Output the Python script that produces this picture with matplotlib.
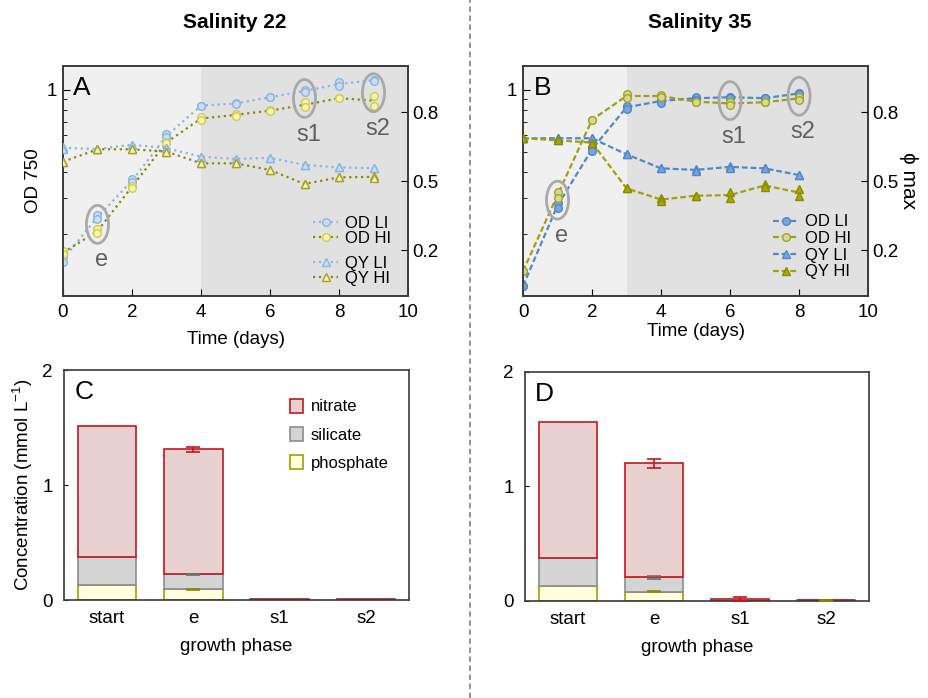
import numpy as np
import matplotlib.pyplot as plt
from matplotlib.patches import Ellipse, Patch
from matplotlib.lines import Line2D
from matplotlib.ticker import NullFormatter

plt.rcParams['font.family'] = ['Liberation Sans', 'DejaVu Sans']
plt.rcParams['mathtext.fontset'] = 'custom'
plt.rcParams['mathtext.rm'] = 'Liberation Sans'
plt.rcParams['axes.edgecolor'] = '#3a3a3a'
plt.rcParams['axes.linewidth'] = 1.2

# ---- salinity 22 (A), two replicates per day ----
days_a = [0, 1, 2, 3, 4, 5, 6, 7, 8, 9]
od_li_a_1 = [0.155, 0.246, 0.367, 0.608, 0.836, 0.861, 0.918, 1.000, 1.087, 1.115]
od_li_a_2 = [0.146, 0.237, 0.356, 0.586, 0.836, 0.851, 0.918, 0.971, 1.039, 1.106]
od_hi_a_1 = [0.165, 0.212, 0.343, 0.558, 0.733, 0.761, 0.796, 0.868, 0.908, 0.935]
od_hi_a_2 = [0.159, 0.201, 0.334, 0.551, 0.714, 0.747, 0.785, 0.820, 0.908, 0.836]
qy_li_a_1 = [0.649, 0.639, 0.658, 0.643, 0.606, 0.596, 0.601, 0.570, 0.559, 0.556]
qy_li_a_2 = [0.640, 0.639, 0.658, 0.643, 0.606, 0.596, 0.601, 0.570, 0.559, 0.556]
qy_hi_a_1 = [0.584, 0.638, 0.638, 0.628, 0.577, 0.577, 0.548, 0.487, 0.516, 0.522]
qy_hi_a_2 = [0.584, 0.638, 0.638, 0.628, 0.577, 0.577, 0.548, 0.487, 0.516, 0.514]
phase_days_a = {'e': 1, 's1': 7, 's2': 9}
split_day_a = 4

# ---- salinity 35 (B) ----
days_b = [0, 1, 2, 3, 4, 5, 6, 7, 8]
od_li_b_1 = [0.112, 0.282, 0.524, 0.836, 0.901, 0.925, 0.925, 0.908, 0.964]
od_li_b_2 = [0.112, 0.267, 0.504, 0.805, 0.861, 0.891, 0.911, 0.908, 0.953]
od_hi_b_1 = [0.132, 0.318, 0.714, 0.953, 0.942, 0.874, 0.868, 0.868, 0.918]
od_hi_b_2 = [0.132, 0.299, 0.714, 0.911, 0.918, 0.874, 0.845, 0.868, 0.894]
qy_li_b_1 = [0.686, 0.686, 0.686, 0.616, 0.555, 0.552, 0.565, 0.555, 0.526]
qy_li_b_2 = [0.686, 0.686, 0.686, 0.616, 0.555, 0.545, 0.558, 0.555, 0.526]
qy_hi_b_1 = [0.686, 0.677, 0.667, 0.468, 0.425, 0.436, 0.451, 0.486, 0.465]
qy_hi_b_2 = [0.686, 0.677, 0.667, 0.468, 0.414, 0.436, 0.427, 0.475, 0.435]
phase_days_b = {'e': 1, 's1': 6, 's2': 8}
split_day_b = 3

# ---- nutrients (C, D) ----
phases = ['start', 'e', 's1', 's2']
phosphate_c = [0.128, 0.093, 0.003, 0.003]
silicate_c = [0.243, 0.130, 0.001, 0.001]
nitrate_c = [1.145, 1.087, 0.001, 0.001]
phosphate_err_c = [0, 0.003, 0, 0]
silicate_err_c = [0, 0.006, 0, 0]
nitrate_err_c = [0, 0.020, 0, 0]

phosphate_d = [0.133, 0.081, 0.002, 0.004]
silicate_d = [0.244, 0.125, 0.001, 0.001]
nitrate_d = [1.185, 0.996, 0.014, 0.001]
phosphate_err_d = [0, 0.005, 0, 0.002]
silicate_err_d = [0, 0.012, 0, 0]
nitrate_err_d = [0, 0.040, 0.017, 0]

style_a = dict(ls=':', li_line='#8db4e2', li_face='#c9ddf4', li_edge='#8db4e2',
               hi_line='#8a8a00', hi_face='#f6f4a6', hi_edge='#cfcb5a',
               tri_hi_face='#f6f4a6', tri_hi_edge='#a5a22a')
style_b = dict(ls=(0, (2.6, 1.3)), li_line='#4f89cb', li_face='#78a6dc', li_edge='#4f89cb',
               hi_line='#a0a010', hi_face='#dada8c', hi_edge='#a3a32a',
               tri_hi_face='#a8a800', tri_hi_edge='#8c8c00')


def line_panel(ax, days, od_li, od_hi, qy_li, qy_hi, st, split_day, phase_days, letter, split_legend):
    ax.axvspan(0, split_day, color='#f0f0f0', lw=0)
    ax.axvspan(split_day, 10, color='#e1e1e1', lw=0)
    ax.set_yscale('log')
    ax.set_xlim(0, 10)
    ax.set_ylim(0.1, 1.3)
    ax2 = ax.twinx()
    ax2.set_ylim(0, 1)

    series = [
        (ax, od_li, 'o', st['li_line'], st['li_face'], st['li_edge'], 'OD LI', True),
        (ax, od_hi, 'o', st['hi_line'], st['hi_face'], st['hi_edge'], 'OD HI', True),
        (ax2, qy_li, '^', st['li_line'], st['li_face'], st['li_edge'], 'QY LI', False),
        (ax2, qy_hi, '^', st['hi_line'], st['tri_hi_face'], st['tri_hi_edge'], 'QY HI', False),
    ]
    handles = []
    for a, reps, m, lc, fc, ec, lab, logy in series:
        r = np.array(reps)
        mean = np.sqrt(r[0] * r[1]) if logy else r.mean(axis=0)
        a.plot(days, mean, color=lc, ls=st['ls'], lw=1.6, zorder=2)
        for rr in r:
            a.plot(days, rr, ls='none', marker=m, ms=5.5, mfc=fc, mec=ec, mew=1.0, zorder=3)
        handles.append(Line2D([], [], color=lc, ls=st['ls'], lw=1.6, marker=m, ms=5.5,
                              mfc=fc, mec=ec, mew=1.0, label=lab))

    ax.set_yticks([1])
    ax.set_yticklabels(['1'])
    ax.set_yticks([0.2, 0.3, 0.4, 0.5, 0.6, 0.7, 0.8, 0.9], minor=True)
    ax.yaxis.set_minor_formatter(NullFormatter())
    ax.set_xticks([0, 2, 4, 6, 8, 10])
    ax2.set_yticks([0.2, 0.5, 0.8])
    ax.tick_params(which='major', direction='in', length=5, labelsize=13.5, pad=4)
    ax.tick_params(which='minor', direction='in', length=3)
    ax.tick_params(axis='x', pad=6)
    ax2.tick_params(direction='in', length=5, labelsize=13.5, pad=3)

    # growth phase marks
    od_all = np.array(od_li + od_hi)
    for name, d in phase_days.items():
        i = days.index(d)
        yc = np.sqrt(od_all[:, i].min() * od_all[:, i].max())
        cx, cy = ax.transAxes.inverted().transform(ax.transData.transform((d, yc)))
        ax2.add_patch(Ellipse((cx, cy), 0.064, 0.165, transform=ax2.transAxes, fill=False,
                              ec='#a9a9a9', lw=2, zorder=5))
        ax2.annotate(name, xy=(cx, cy), xycoords='axes fraction', xytext=(3, -26),
                     textcoords='offset points', ha='center', va='center',
                     fontsize=17, color='#606060')

    ax.text(0.03, 0.955, letter, transform=ax.transAxes, ha='left', va='top', fontsize=19)

    if split_legend:
        leg1 = ax2.legend(handles=handles[:2], loc='upper left', bbox_to_anchor=(0.725, 0.35),
                          frameon=False, fontsize=12, handlelength=1.5, handletextpad=0.4,
                          labelspacing=0.0, borderpad=0, borderaxespad=0)
        ax2.add_artist(leg1)
        ax2.legend(handles=handles[2:], loc='upper left', bbox_to_anchor=(0.725, 0.175),
                   frameon=False, fontsize=12, handlelength=1.5, handletextpad=0.4,
                   labelspacing=0.0, borderpad=0, borderaxespad=0)
    else:
        ax2.legend(handles=handles, loc='upper left', bbox_to_anchor=(0.725, 0.355),
                   frameon=False, fontsize=12, handlelength=1.5, handletextpad=0.4,
                   labelspacing=0.1, borderpad=0, borderaxespad=0)
    return ax2


def bar_panel(ax, phos, sil, nit, phos_err, sil_err, nit_err, letter):
    x = np.arange(len(phases))
    phos = np.array(phos)
    sil = np.array(sil)
    nit = np.array(nit)
    w = 0.68
    ax.bar(x, phos, w, color='#ffffe0', edgecolor='#a0a000', lw=1.2, label='phosphate')
    ax.bar(x, sil, w, bottom=phos, color='#d4d4d4', edgecolor='#8c8c8c', lw=1.2, label='silicate')
    ax.bar(x, nit, w, bottom=phos + sil, color='#e8d0d0', edgecolor='#c0181c', lw=1.2, label='nitrate')
    for top, err, c in [(phos, phos_err, '#8a8a00'), (phos + sil, sil_err, '#707070'),
                        (phos + sil + nit, nit_err, '#c0181c')]:
        err = np.array(err)
        k = err > 0
        ax.errorbar(x[k], top[k], yerr=err[k], fmt='none', ecolor=c, elinewidth=1.2,
                    capsize=5, capthick=1.2, zorder=4)
    ax.set_xlim(-0.5, 3.5)
    ax.set_ylim(0, 2)
    ax.set_xticks(x)
    ax.set_xticklabels(phases)
    ax.set_yticks([0, 1, 2])
    ax.tick_params(axis='x', length=0, labelsize=13.5, pad=7)
    ax.tick_params(axis='y', direction='in', length=3, labelsize=13.5, pad=8)
    ax.set_xlabel('growth phase', fontsize=13.5, labelpad=8)
    ax.text(0.03, 0.955, letter, transform=ax.transAxes, ha='left', va='top', fontsize=19)


fig = plt.figure(figsize=(9.29, 6.98), dpi=100)
axA = fig.add_axes([0.0678, 0.5759, 0.3714, 0.3295])
axB = fig.add_axes([0.5630, 0.5759, 0.3714, 0.3295])
axC = fig.add_axes([0.0689, 0.1404, 0.3714, 0.3295])
axD = fig.add_axes([0.5651, 0.1390, 0.3703, 0.3281])

line_panel(axA, days_a, [od_li_a_1, od_li_a_2], [od_hi_a_1, od_hi_a_2],
           [qy_li_a_1, qy_li_a_2], [qy_hi_a_1, qy_hi_a_2], style_a, split_day_a,
           phase_days_a, 'A', True)
axB2 = line_panel(axB, days_b, [od_li_b_1, od_li_b_2], [od_hi_b_1, od_hi_b_2],
                  [qy_li_b_1, qy_li_b_2], [qy_hi_b_1, qy_hi_b_2], style_b, split_day_b,
                  phase_days_b, 'B', False)
axA.set_xlabel('Time (days)', fontsize=13.5, labelpad=7)
axB.set_xlabel('Time (days)', fontsize=13.5, labelpad=1)
axA.set_ylabel('OD 750', fontsize=13.5, labelpad=4)
axB2.set_ylabel('\u03d5 max', fontsize=15, rotation=270, labelpad=14)

bar_panel(axC, phosphate_c, silicate_c, nitrate_c, phosphate_err_c, silicate_err_c,
          nitrate_err_c, 'C')
bar_panel(axD, phosphate_d, silicate_d, nitrate_d, phosphate_err_d, silicate_err_d,
          nitrate_err_d, 'D')
axC.set_ylabel('Concentration (mmol L$^{\\mathregular{-1}}$)', fontsize=13.5, labelpad=5)
h, l = axC.get_legend_handles_labels()
axC.legend(h[::-1], l[::-1], loc='upper left', bbox_to_anchor=(0.655, 0.875), frameon=False,
           fontsize=12, handlelength=0.75, handleheight=0.9, handletextpad=0.5,
           labelspacing=0.75, borderpad=0, borderaxespad=0)

fig.text(0.253, 0.968, 'Salinity 22', ha='center', va='center', fontsize=15, fontweight='bold')
fig.text(0.7535, 0.968, 'Salinity 35', ha='center', va='center', fontsize=15, fontweight='bold')
fig.add_artist(Line2D([0.506, 0.506], [0, 1], transform=fig.transFigure, color='#8a8a8a',
                      lw=1.3, ls=(0, (3, 2))))

plt.savefig('out.png', dpi=100)
plt.close()
